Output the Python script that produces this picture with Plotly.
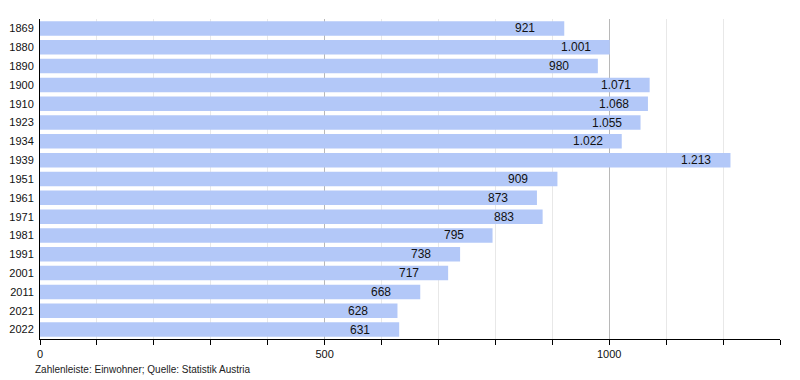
import plotly.graph_objects as go

years = ["1869", "1880", "1890", "1900", "1910", "1923", "1934", "1939", "1951",
         "1961", "1971", "1981", "1991", "2001", "2011", "2021", "2022"]
population = [921, 1001, 980, 1071, 1068, 1055, 1022, 1213, 909,
              873, 883, 795, 738, 717, 668, 628, 631]
labels = [f"{v:,}".replace(",", ".") for v in population]
footer = "Zahlenleiste: Einwohner; Quelle: Statistik Austria"

BAR = "#b3c8f8"
FONT = "Liberation Sans, Arial"

fig = go.Figure()
fig.add_trace(go.Bar(
    x=population, y=years, orientation="h",
    marker=dict(color=BAR, line=dict(width=0)),
    hoverinfo="skip",
))

# value labels: left edge placed 50px before the bar end (category index as y)
for i, (v, lab) in enumerate(zip(population, labels)):
    fig.add_annotation(x=v, y=i, text=lab, showarrow=False,
                       xanchor="left", xshift=-51,
                       font=dict(family=FONT, size=12, color="#111"))

fig.add_annotation(x=0, y=-0.094, xref="paper", yref="paper", text=footer,
                   showarrow=False, xanchor="left", yanchor="middle", xshift=-7,
                   font=dict(family=FONT, size=10, color="#222"))

fig.update_layout(
    width=800, height=380,
    margin=dict(l=40, r=20, t=19, b=41, autoexpand=False),
    paper_bgcolor="white", plot_bgcolor="white",
    showlegend=False,
    bargap=0.23,
    font=dict(family=FONT, size=11, color="#111"),
)
fig.update_xaxes(
    range=[0, 1300], tickmode="linear", tick0=0, dtick=500,
    showgrid=True, gridcolor="#b8b8b8", gridwidth=1,
    showline=True, linecolor="black", linewidth=1,
    ticks="outside", ticklen=5, tickcolor="black",
    tickformat="d", tickfont=dict(family=FONT, size=11, color="#111"),
    minor=dict(dtick=100, tick0=0, showgrid=True, gridcolor="#e8e8e8",
               ticks="outside", ticklen=5, tickcolor="black"),
    zeroline=False, fixedrange=True, automargin=False,
)
fig.update_yaxes(
    type="category",
    categoryorder="array", categoryarray=years,
    range=[len(years) - 0.5, -0.5], autorange=False,
    showline=True, linecolor="black", linewidth=1,
    ticks="", showgrid=False, ticklabelstandoff=3,
    tickfont=dict(family=FONT, size=11, color="#111"),
    fixedrange=True, automargin=False,
)

fig.write_html("out.html", config={"displayModeBar": False},
               post_script="document.body.style.margin='0';")
